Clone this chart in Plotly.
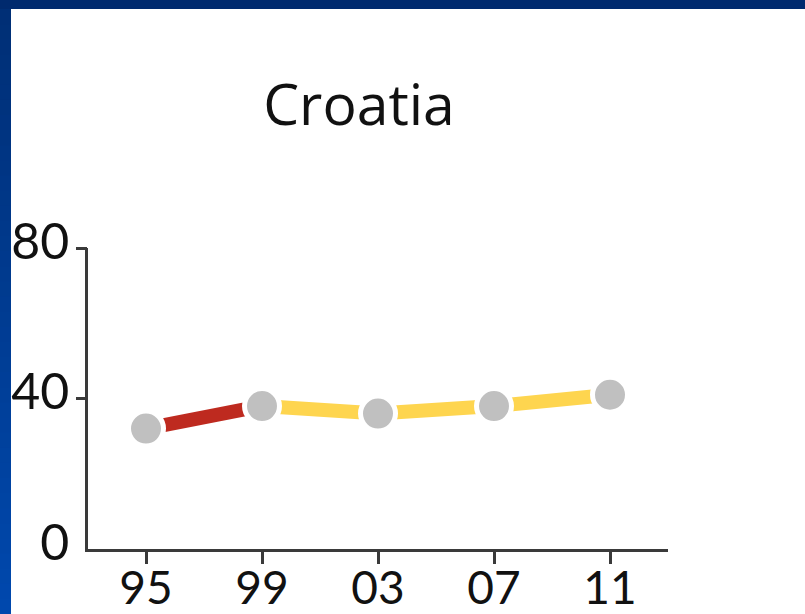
import plotly.graph_objects as go

# ---- data ----
years = ["95", "99", "03", "07", "11"]
values = [32, 38, 36, 38, 41]
segment_groups = ["red", "yellow", "yellow", "yellow"]  # colour of segment i -> i+1
y_tick_vals = [0, 40, 80]
y_tick_text = ["0", "40", "80"]
title_text = "Croatia"

# ---- style ----
W, H = 805, 614
L, R, T, B = 88, 137, 248, 65
PW, PH = W - L - R, H - T - B
FONT = "Lato"
TITLE_FONT = "Open Sans"
COLORS = {"red": "#be2a1f", "yellow": "#fed54f"}
MARKER = "#c0c0c0"
AXIS = "#3a3a3a"

fig = go.Figure()

# coloured line segments, grouped by contiguous colour
i = 0
while i < len(segment_groups):
    j = i
    while j + 1 < len(segment_groups) and segment_groups[j + 1] == segment_groups[i]:
        j += 1
    fig.add_trace(go.Scatter(
        x=years[i:j + 2], y=values[i:j + 2], mode="lines",
        line=dict(color=COLORS[segment_groups[i]], width=14),
        hoverinfo="skip", showlegend=False))
    i = j + 1

# markers with white halo (on overlay axis so they sit above the lines)
fig.add_trace(go.Scatter(
    x=years, y=values, mode="markers", yaxis="y2",
    marker=dict(color=MARKER, size=35, line=dict(color="white", width=5)),
    showlegend=False, cliponaxis=False))


def px_x(px):
    return (px - L) / PW


def px_y(py):
    return (H - B - py) / PH


shapes = []
# left gradient strip: each band runs to the bottom, later bands overlay earlier
n = 40
c0 = (0x00, 0x2f, 0x76)
c1 = (0x00, 0x48, 0xad)
for k in range(n):
    f = k / (n - 1)
    col = "rgb(%d,%d,%d)" % tuple(round(a + (b - a) * f) for a, b in zip(c0, c1))
    ya = 9 + (H - 9) * k / n
    shapes.append(dict(type="rect", xref="paper", yref="paper", layer="below",
                       x0=px_x(0), x1=px_x(11), y0=px_y(H), y1=px_y(ya),
                       fillcolor=col, line=dict(width=0)))
# top bar
shapes.append(dict(type="rect", xref="paper", yref="paper", layer="below",
                   x0=px_x(0), x1=px_x(W), y0=px_y(9), y1=px_y(0),
                   fillcolor="#002a6e", line=dict(width=0)))

fig.update_layout(
    width=W, height=H,
    margin=dict(l=L, r=R, t=T, b=B, autoexpand=False),
    paper_bgcolor="white", plot_bgcolor="white",
    showlegend=False,
    shapes=shapes,
    title=dict(text=title_text, xref="container", yref="container",
               x=359 / W, xanchor="center", y=1 - 105 / H, yanchor="middle",
               automargin=False,
               font=dict(family=TITLE_FONT, size=57, color="#111111")),
    xaxis=dict(type="category", range=[-0.5, 4.5], automargin=False,
               showline=True, linecolor=AXIS, linewidth=2.5,
               ticks="outside", ticklen=12, tickwidth=2.5, tickcolor=AXIS,
               showgrid=False, zeroline=False, ticklabelstandoff=-15,
               tickfont=dict(family=FONT, size=46, color="#111111")),
    yaxis=dict(range=[0, 80], tickvals=y_tick_vals, ticktext=y_tick_text,
               automargin=False,
               showline=True, linecolor=AXIS, linewidth=2.5,
               ticks="", showgrid=False, zeroline=False, ticklabelstandoff=6,
               ticklabelshift=-7,
               tickfont=dict(family=FONT, size=50, color="#111111")),
    yaxis2=dict(range=[0, 80], overlaying="y", side="left", automargin=False,
                tickvals=y_tick_vals[1:], ticks="outside", ticklen=11,
                tickwidth=2.5, tickcolor=AXIS, showticklabels=False,
                showline=False, showgrid=False, zeroline=False),
)

fig.write_html(
    "out.html",
    config={"displayModeBar": False},
    post_script="document.body.style.margin='0';document.body.style.overflow='hidden';",
)
